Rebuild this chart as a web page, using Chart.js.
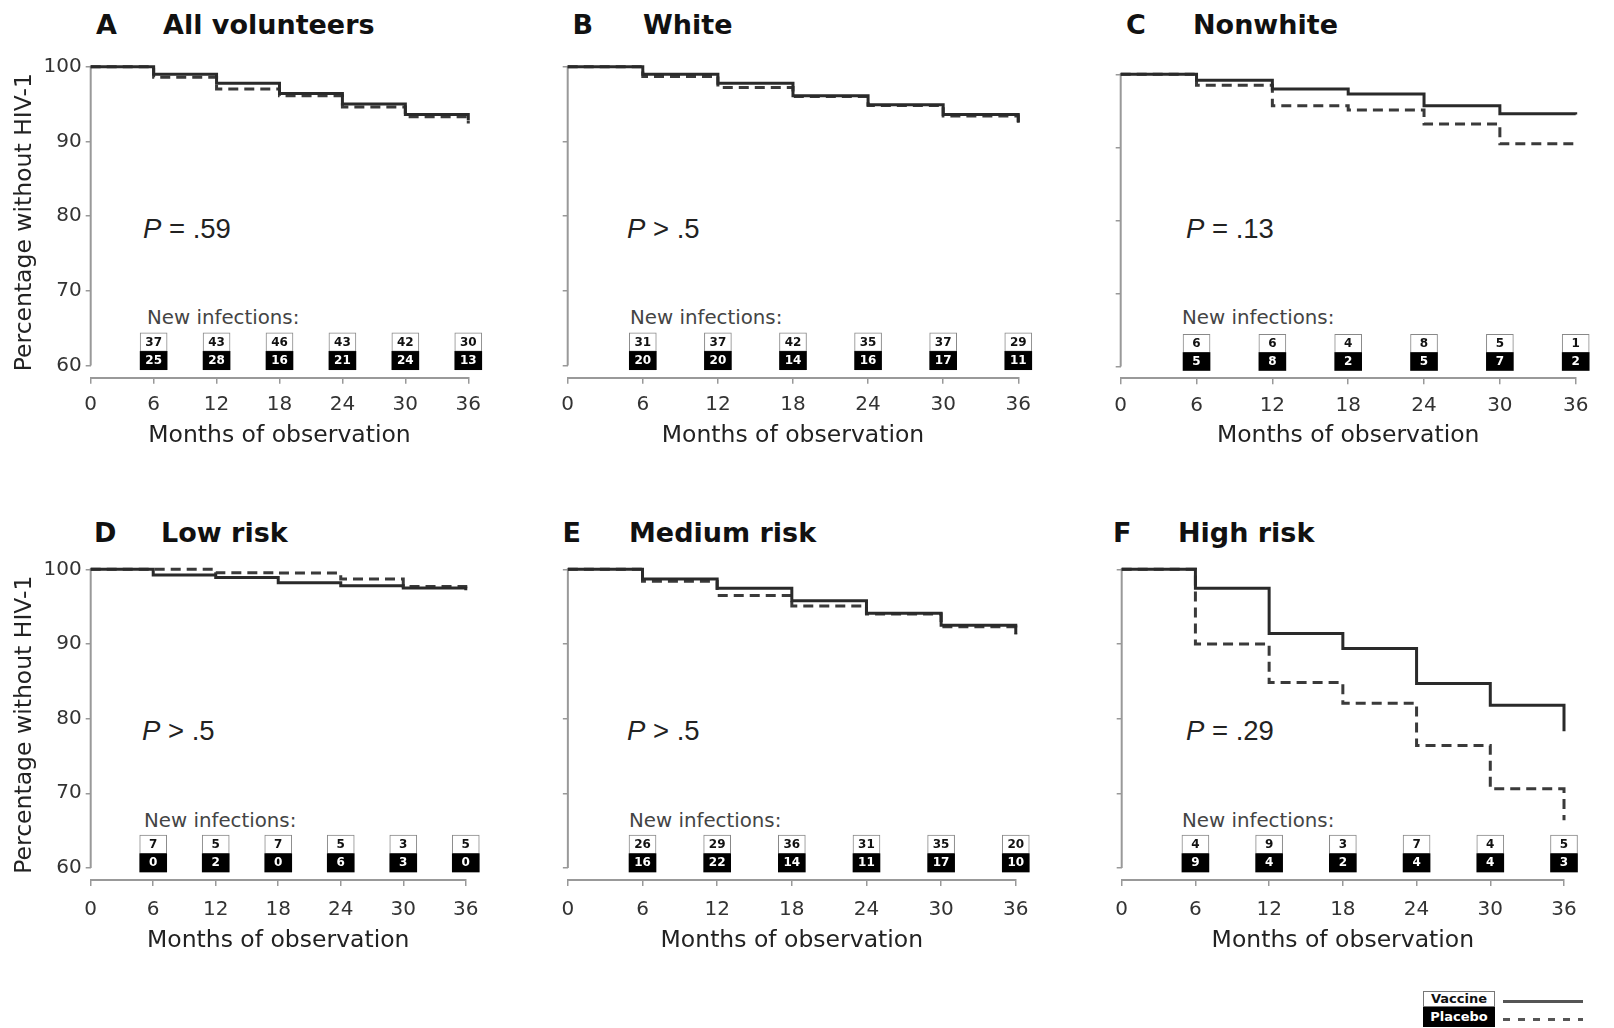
<!DOCTYPE html>
<html>
<head>
<meta charset="utf-8">
<title>HIV-1 infection by subgroup</title>
<script src="https://cdn.jsdelivr.net/npm/chart.js@4.4.1/dist/chart.umd.min.js"></script>
<style>
  html, body { margin: 0; padding: 0; background: #fff; }
  #page { position: relative; width: 1614px; height: 1028px; overflow: hidden; font-family: "DejaVu Sans", sans-serif; color: #111; }
  .panel { position: absolute; }
  .txt { position: absolute; white-space: nowrap; line-height: 1; }
  .ttl { font-weight: bold; font-size: 27px; color: #111; }
  .pval { font-family: "Liberation Sans", Arial, sans-serif; font-size: 27.5px; color: #222; }
  .newinf { font-size: 19.8px; color: #444; }
  .leg { font-weight: bold; font-size: 13px; text-align: center; }
</style>
</head>
<body>
<div id="page">
  <!-- panel titles -->
  <div class="txt ttl" style="left:96px;top:11px">A</div>
  <div class="txt ttl" style="left:163px;top:11px">All volunteers</div>
  <div class="txt ttl" style="left:572.5px;top:11px">B</div>
  <div class="txt ttl" style="left:643px;top:11px">White</div>
  <div class="txt ttl" style="left:1126px;top:11px">C</div>
  <div class="txt ttl" style="left:1193px;top:11px">Nonwhite</div>
  <div class="txt ttl" style="left:94px;top:518.5px">D</div>
  <div class="txt ttl" style="left:161px;top:518.5px">Low risk</div>
  <div class="txt ttl" style="left:562.5px;top:518.5px">E</div>
  <div class="txt ttl" style="left:629px;top:518.5px">Medium risk</div>
  <div class="txt ttl" style="left:1113px;top:518.5px">F</div>
  <div class="txt ttl" style="left:1178px;top:518.5px">High risk</div>

  <!-- P values -->
  <div class="txt pval" style="left:143px;top:214.5px"><i>P</i> = .59</div>
  <div class="txt pval" style="left:627px;top:214.5px"><i>P</i> &gt; .5</div>
  <div class="txt pval" style="left:1186px;top:214.5px"><i>P</i> = .13</div>
  <div class="txt pval" style="left:142px;top:717px"><i>P</i> &gt; .5</div>
  <div class="txt pval" style="left:627px;top:717px"><i>P</i> &gt; .5</div>
  <div class="txt pval" style="left:1186px;top:717px"><i>P</i> = .29</div>

  <!-- "New infections:" captions -->
  <div class="txt newinf" style="left:147px;top:308px">New infections:</div>
  <div class="txt newinf" style="left:630px;top:308px">New infections:</div>
  <div class="txt newinf" style="left:1182px;top:308px">New infections:</div>
  <div class="txt newinf" style="left:144px;top:811px">New infections:</div>
  <div class="txt newinf" style="left:629px;top:811px">New infections:</div>
  <div class="txt newinf" style="left:1182px;top:811px">New infections:</div>

  <!-- legend -->
  <div class="txt leg" style="left:1423px;top:991px;width:70px;height:14px;line-height:14px;border:1px solid #777;background:#fff;color:#111">Vaccine</div>
  <div class="txt leg" style="left:1423px;top:1007px;width:72px;height:20px;line-height:20px;background:#000;color:#fff">Placebo</div>
  <div style="position:absolute;left:1503px;top:999.5px;width:80px;height:3px;background:#555"></div>
  <div style="position:absolute;left:1503px;top:1017.5px;width:80px;height:3px;background:repeating-linear-gradient(90deg,#555 0 7px,transparent 7px 15px)"></div>
</div>

<script>
// months of observation and axis ticks
var months = [0, 6, 12, 18, 24, 30, 36];
var boxMonths = [6, 12, 18, 24, 30, 36];
var xTicks = [0, 6, 12, 18, 24, 30, 36];
var yTicks = [60, 70, 80, 90, 100];

// percentage without HIV-1 (Kaplan-Meier steps)
var vaccineA = [100, 99.0, 97.8, 96.4, 95.0, 93.6, 92.8];
var placeboA = [100, 98.6, 97.0, 96.1, 94.6, 93.3, 92.4];
var vaccineB = [100, 99.0, 97.8, 96.1, 94.9, 93.6, 92.5];
var placeboB = [100, 98.7, 97.2, 96.0, 94.8, 93.4, 92.3];
var vaccineC = [100, 99.2, 98.0, 97.3, 95.7, 94.6, 94.5];
var placeboC = [100, 98.5, 95.7, 95.1, 93.2, 90.5, 90.2];
var vaccineD = [100, 99.25, 98.9, 98.2, 97.8, 97.5, 97.2];
var placeboD = [100, 100, 99.55, 99.5, 98.7, 97.7, 97.3];
var vaccineE = [100, 98.7, 97.45, 95.8, 94.1, 92.5, 91.3];
var placeboE = [100, 98.4, 96.5, 95.1, 94.0, 92.3, 91.3];
var vaccineF = [100, 97.45, 91.4, 89.4, 84.7, 81.8, 78.3];
var placeboF = [100, 90.0, 84.85, 82.05, 76.4, 70.6, 66.4];

// new infections per 6-month interval
var newVacA = [37, 43, 46, 43, 42, 30];
var newPlaA = [25, 28, 16, 21, 24, 13];
var newVacB = [31, 37, 42, 35, 37, 29];
var newPlaB = [20, 20, 14, 16, 17, 11];
var newVacC = [6, 6, 4, 8, 5, 1];
var newPlaC = [5, 8, 2, 5, 7, 2];
var newVacD = [7, 5, 7, 5, 3, 5];
var newPlaD = [0, 2, 0, 6, 3, 0];
var newVacE = [26, 29, 36, 31, 35, 20];
var newPlaE = [16, 22, 14, 11, 17, 10];
var newVacF = [4, 9, 3, 7, 4, 5];
var newPlaF = [9, 4, 2, 4, 4, 3];

// where the count boxes sit, in axis units
var Y_MIN = 58.38;
var BOX_TOP = 64.4, BOX_MID = 61.9, BOX_BOTTOM = 59.45;

// page geometry for each panel (pixels)
var panels = [
  { vac: vaccineA, pla: placeboA, nv: newVacA, np: newPlaA, left: 0, top: 40, right: 490, bottom: 454, x0: 90.7, x36: 470, y100: 66.7, axisY: 377.7, tickPad: 9, yLabels: true },
  { vac: vaccineB, pla: placeboB, nv: newVacB, np: newPlaB, left: 550, top: 40, right: 1040, bottom: 454, x0: 567.7, x36: 1020, y100: 66.7, axisY: 377.7, tickPad: 9, yLabels: false },
  { vac: vaccineC, pla: placeboC, nv: newVacC, np: newPlaC, left: 1100, top: 40, right: 1600, bottom: 454, x0: 1120.7, x36: 1575.7, y100: 74.3, axisY: 378.3, tickPad: 9, yLabels: false },
  { vac: vaccineD, pla: placeboD, nv: newVacD, np: newPlaD, left: 0, top: 540, right: 490, bottom: 959, x0: 90.7, x36: 469.3, y100: 569.3, axisY: 880, tickPad: 11.5, yLabels: true },
  { vac: vaccineE, pla: placeboE, nv: newVacE, np: newPlaE, left: 550, top: 540, right: 1040, bottom: 959, x0: 566.7, x36: 1020, y100: 569.3, axisY: 880, tickPad: 11.5, yLabels: false },
  { vac: vaccineF, pla: placeboF, nv: newVacF, np: newPlaF, left: 1100, top: 540, right: 1600, bottom: 959, x0: 1121.7, x36: 1564, y100: 569.3, axisY: 880, tickPad: 11.5, yLabels: false }
];

// y axis line only runs from 60 to 100, detached from the x axis
var yAxisLine = {
  id: 'yAxisLine',
  beforeDatasetsDraw: function (chart) {
    var ys = chart.scales.y, ctx = chart.ctx, x = chart.chartArea.left;
    ctx.save();
    ctx.strokeStyle = '#999';
    ctx.lineWidth = 2;
    ctx.beginPath();
    ctx.moveTo(x, ys.getPixelForValue(yTicks[0]));
    ctx.lineTo(x, ys.getPixelForValue(yTicks[yTicks.length - 1]) - 1);
    ctx.stroke();
    ctx.restore();
  }
};

// numbers written inside the count boxes
var boxLabels = {
  id: 'boxLabels',
  afterDatasetsDraw: function (chart) {
    var ctx = chart.ctx;
    chart.data.datasets.forEach(function (ds, i) {
      if (!ds.counts) return;
      chart.getDatasetMeta(i).data.forEach(function (bar, j) {
        ctx.save();
        ctx.font = 'bold 12px "DejaVu Sans"';
        ctx.fillStyle = ds.textColor;
        ctx.textAlign = 'center';
        ctx.textBaseline = 'middle';
        ctx.fillText(String(ds.counts[j]), bar.x, (bar.y + bar.base) / 2 + 0.5);
        ctx.restore();
      });
    });
  }
};

function pts(vals) {
  return months.map(function (m, i) { return { x: m, y: vals[i] }; });
}
function boxes(lo, hi) {
  return boxMonths.map(function (m) { return { x: m, y: [lo, hi] }; });
}

panels.forEach(function (p) {
  var w = p.right - p.left, h = p.bottom - p.top;
  var holder = document.createElement('div');
  holder.className = 'panel';
  holder.style.left = p.left + 'px';
  holder.style.top = p.top + 'px';
  var canvas = document.createElement('canvas');
  canvas.width = w;
  canvas.height = h;
  holder.appendChild(canvas);
  document.getElementById('page').appendChild(holder);

  var yw = p.x0 - p.left, xh = p.bottom - p.axisY;

  new Chart(canvas.getContext('2d'), {
    type: 'line',
    data: {
      datasets: [
        { type: 'line', label: 'Vaccine', data: pts(p.vac), borderColor: '#2a2a2a', borderWidth: 3,
          stepped: 'before', pointRadius: 0, fill: false, clip: false, order: 0 },
        { type: 'line', label: 'Placebo', data: pts(p.pla), borderColor: '#3a3a3a', borderWidth: 3,
          borderDash: [10, 6], stepped: 'before', pointRadius: 0, fill: false, clip: false, order: 1 },
        { type: 'bar', label: 'Vaccine count', data: boxes(BOX_MID, BOX_TOP), counts: p.nv, textColor: '#111',
          backgroundColor: '#fff', borderColor: '#888', borderWidth: 1, borderSkipped: false,
          barThickness: 27, grouped: false, clip: false, order: 3 },
        { type: 'bar', label: 'Placebo count', data: boxes(BOX_BOTTOM, BOX_MID), counts: p.np, textColor: '#fff',
          backgroundColor: '#000', borderWidth: 0, borderSkipped: false,
          barThickness: 27, grouped: false, clip: false, order: 2 }
      ]
    },
    options: {
      responsive: false,
      animation: false,
      events: [],
      layout: { padding: { left: 0, top: p.y100 - p.top, right: p.right - p.x36, bottom: 0 } },
      plugins: { legend: { display: false }, tooltip: { enabled: false } },
      scales: {
        x: {
          type: 'linear', min: 0, max: 36, offset: false,
          afterBuildTicks: function (s) { s.ticks = xTicks.map(function (v) { return { value: v }; }); },
          afterFit: function (s) { s.height = xh; },
          border: { display: true, color: '#999', width: 2 },
          grid: { offset: false, drawOnChartArea: false, drawTicks: true, tickLength: 6, color: '#999', lineWidth: 1.5 },
          ticks: { color: '#333', padding: p.tickPad, maxRotation: 0, font: { family: 'DejaVu Sans', size: 20 } },
          title: { display: true, text: 'Months of observation', color: '#222',
                   font: { family: 'DejaVu Sans', size: 23.5 }, padding: { top: 0, bottom: 4 } }
        },
        y: {
          type: 'linear', min: Y_MIN, max: 100, beginAtZero: false,
          afterBuildTicks: function (s) { s.ticks = yTicks.map(function (v) { return { value: v }; }); },
          afterFit: function (s) { s.width = yw; },
          border: { display: false },
          grid: { drawOnChartArea: false, drawTicks: true, tickLength: 5, color: '#999', lineWidth: 1.5 },
          ticks: { display: p.yLabels, color: '#333', padding: 4, font: { family: 'DejaVu Sans', size: 20 } },
          title: { display: p.yLabels, text: 'Percentage without HIV-1', color: '#222',
                   font: { family: 'DejaVu Sans', size: 23.5 }, padding: { top: 11, bottom: 0 } }
        }
      }
    },
    plugins: [yAxisLine, boxLabels]
  });
});
</script>
</body>
</html>
